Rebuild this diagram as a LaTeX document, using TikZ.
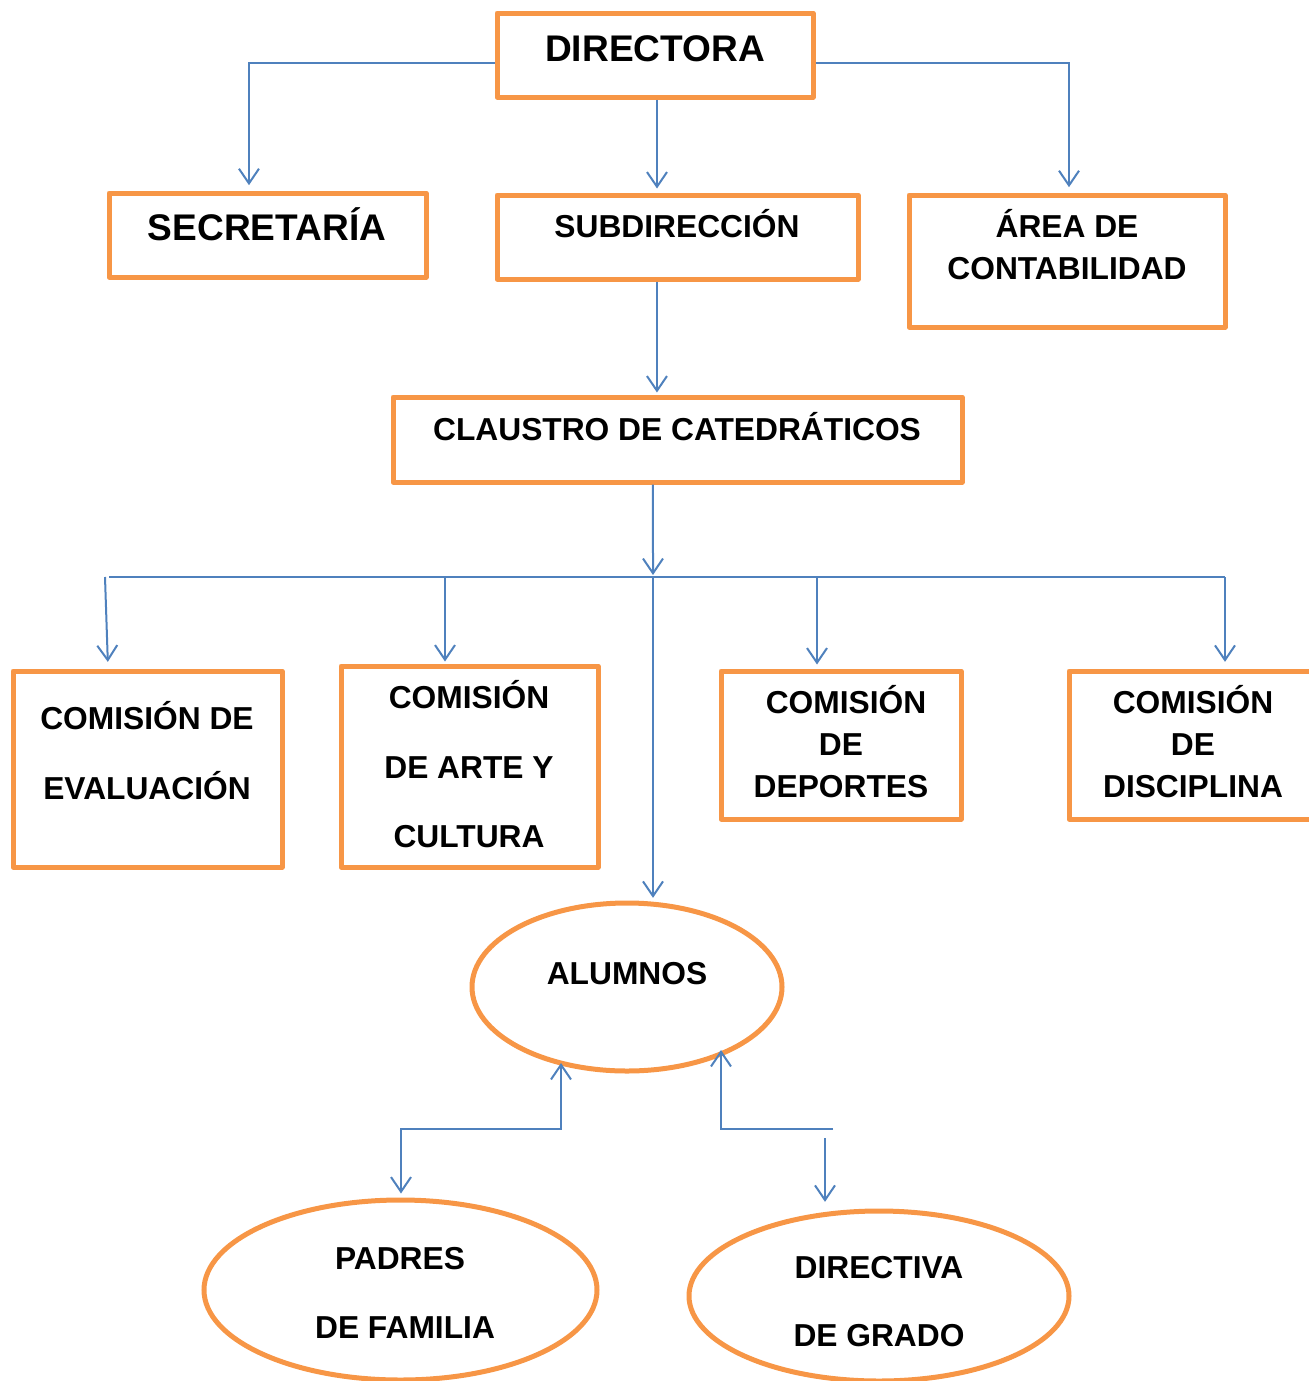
\documentclass[tikz,border=0pt]{standalone}
\usepackage{fontspec}
\setmainfont{Liberation Sans}
\usetikzlibrary{arrows.meta,shapes.geometric}
\definecolor{orng}{HTML}{F79646}
\definecolor{blu}{HTML}{4F81BD}
\begin{document}
\begin{tikzpicture}[x=0.75pt,y=-0.75pt,
  box/.style={draw=orng,line width=3.75pt,line join=round,rectangle,inner sep=0pt,fill=white},
  oval/.style={draw=orng,line width=3.75pt,ellipse,inner sep=0pt},
  txt/.style={font=\fontsize{23.8}{28}\selectfont\bfseries,anchor=base,inner sep=0pt},
  big/.style={font=\fontsize{27.8}{32}\selectfont\bfseries,anchor=base,inner sep=0pt},
  conn/.style={draw=blu,line width=1.5pt},
  arr/.style={conn,-{Straight Barb[length=11pt,width=15pt,line width=1.5pt]}},
  darr/.style={conn,{Straight Barb[length=11pt,width=15pt,line width=1.5pt]}-{Straight Barb[length=11pt,width=15pt,line width=1.5pt]}}
]
\useasboundingbox (0,0) rectangle (1309,1381);
% boxes
\node[box,minimum width=237pt,minimum height=63pt] (dir) at (655,55) {};
\node[box,minimum width=237.75pt,minimum height=63pt] (sec) at (267.5,235) {};
\node[box,minimum width=270.75pt,minimum height=63pt] (sub) at (677.5,237) {};
\node[box,minimum width=237pt,minimum height=99pt] (area) at (1067,261) {};
\node[box,minimum width=426.75pt,minimum height=63.75pt] (cla) at (677.5,439.5) {};
\node[box,minimum width=201.75pt,minimum height=147pt] (eval) at (147.5,769) {};
\node[box,minimum width=192.75pt,minimum height=150.75pt] (arte) at (469.5,766.5) {};
\node[box,minimum width=180pt,minimum height=111pt] (dep) at (841,745) {};
\node[box,minimum width=186.75pt,minimum height=111pt] (dis) at (1193.5,745) {};
\node[oval,minimum width=232.5pt,minimum height=126pt] (alu) at (627,987) {};
\node[oval,minimum width=294.75pt,minimum height=135pt] (pad) at (400.5,1290) {};
\node[oval,minimum width=285pt,minimum height=127.5pt] (dg) at (879,1296) {};
% texts
\node[big] (tdir) at (655,61) {DIRECTORA};
\node[big] (tsec) at (267,240) {SECRETARÍA};
\node[txt] (tsub) at (677,237) {SUBDIRECCIÓN};
\node[txt] (tarea1) at (1067,237) {ÁREA DE};
\node[txt] (tarea2) at (1067,279) {CONTABILIDAD};
\node[txt] (tcla) at (677,440) {CLAUSTRO DE CATEDRÁTICOS};
\node[txt] (tev1) at (147,729) {COMISIÓN DE};
\node[txt] (tev2) at (147,799) {EVALUACIÓN};
\node[txt] (tar1) at (469,708) {COMISIÓN};
\node[txt] (tar2) at (469,778) {DE ARTE Y};
\node[txt] (tar3) at (469,847) {CULTURA};
\node[txt] (tde1) at (846,713) {COMISIÓN};
\node[txt] (tde2) at (841,755) {DE};
\node[txt] (tde3) at (841,797) {DEPORTES};
\node[txt] (tdi1) at (1193,713) {COMISIÓN};
\node[txt] (tdi2) at (1193,755) {DE};
\node[txt] (tdi3) at (1193,797) {DISCIPLINA};
\node[txt] (talu) at (627,984) {ALUMNOS};
\node[txt] (tpa1) at (400,1269) {PADRES};
\node[txt] (tpa2) at (405,1338) {DE FAMILIA};
\node[txt] (tdg1) at (879,1278) {DIRECTIVA};
\node[txt] (tdg2) at (879,1346) {DE GRADO};
% coordinates
\coordinate (bus) at (653,577);
\coordinate (busL) at (109,577);
\coordinate (busR) at (1225,577);
\coordinate (t1) at (105,577);
\coordinate (t2) at (445,577);
\coordinate (t3) at (817,577);
\coordinate (c1) at (401,1129);
\coordinate (c2) at (561,1129);
\coordinate (a1) at (561,1063);
\coordinate (c3) at (721,1129);
\coordinate (a2) at (721,1050);
\coordinate (c4) at (833,1129);
\coordinate (c5) at (825,1138);
% connectors
\draw[arr,shorten >=4pt] ([yshift=-6pt]dir.west) -| ([xshift=-13.9pt]sec.north);
\draw[arr,shorten >=3pt] ([xshift=1.5pt]dir.south) -- ([xshift=1.5pt]dir.south |- sub.north);
\draw[arr,shorten >=4pt] ([yshift=-6pt]dir.east) -| ([xshift=1.5pt]area.north);
\draw[arr,shorten >=1.5pt] ([xshift=-15.4pt]sub.south) -- ([xshift=-15.4pt]sub.south |- cla.north);
\draw[arr,shorten >=1.5pt] ([xshift=-18.4pt]cla.south) -- (bus);
\draw[conn] (busL) -- (busR);
\draw[arr,shorten >=5pt] (t1) -- ([xshift=-29.6pt]eval.north);
\draw[arr,shorten >=1.5pt] (t2) -- (t2 |- arte.north);
\draw[arr,shorten >=3pt] (t3) -- (t3 |- dep.north);
\draw[arr,shorten >=5pt] (busR) -- (busR |- dis.north);
\draw[arr,shorten >=2pt] (bus) -- (alu.north -| bus);
\draw[darr,shorten <=3pt] (pad.north -| c1) |- (c2) -- (a1);
\draw[arr] (c4) -| (a2);
\draw[arr,shorten >=5pt] (c5) -- (c5 |- dg.north);
\end{tikzpicture}
\end{document}
